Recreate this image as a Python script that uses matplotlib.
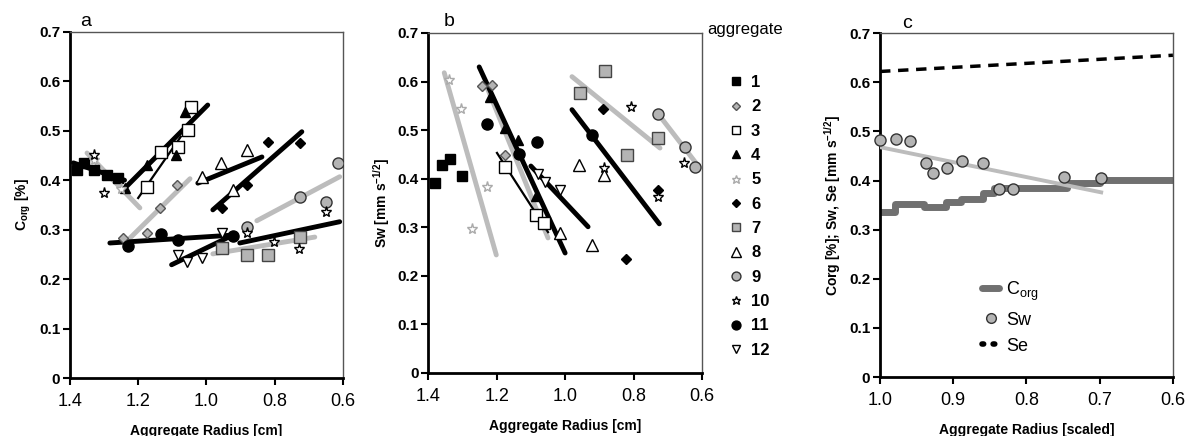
import matplotlib
matplotlib.use('Agg')
import matplotlib.pyplot as plt
import numpy as np
from matplotlib.lines import Line2D
from matplotlib.ticker import FuncFormatter, FormatStrFormatter

plt.rcParams['font.family'] = ['Liberation Sans', 'DejaVu Sans']

## aggregate ids 1..12
aggregates = list(range(1, 13))

## panel a: radius [cm] and Corg [%] per aggregate
a_radius = [
    [1.38, 1.36, 1.33, 1.29, 1.26],
    [1.244, 1.174, 1.136, 1.087],
    [1.174, 1.133, 1.083, 1.054, 1.045],
    [1.24, 1.174, 1.089, 1.063],
    [1.33, 1.25],
    [0.955, 0.881, 0.82, 0.726],
    [0.955, 0.881, 0.82, 0.726],
    [1.013, 0.958, 0.922, 0.881],
    [0.881, 0.726, 0.65, 0.615],
    [1.33, 1.30, 0.881, 0.802, 0.729, 0.65],
    [1.23, 1.133, 1.083, 0.922],
    [1.083, 1.058, 1.013, 0.955],
]
a_corg = [
    [0.42, 0.435, 0.42, 0.41, 0.405],
    [0.283, 0.293, 0.344, 0.39],
    [0.386, 0.457, 0.467, 0.502, 0.548],
    [0.385, 0.431, 0.451, 0.538],
    [0.441, 0.383],
    [0.344, 0.39, 0.477, 0.475],
    [0.263, 0.249, 0.249, 0.285],
    [0.407, 0.435, 0.38, 0.461],
    [0.305, 0.366, 0.356, 0.435],
    [0.45, 0.375, 0.293, 0.275, 0.261, 0.336],
    [0.267, 0.291, 0.279, 0.287],
    [0.249, 0.235, 0.243, 0.293],
]
# fitted lines (start/end)
a_fit_id = [1, 2, 3, 4, 5, 6, 7, 8, 9, 10, 11, 12]
a_fit_r = [(1.39, 1.24), (1.224, 1.048), (1.20, 1.075), (1.239, 0.996), (1.35, 1.195), (0.981, 0.72),
           (0.981, 0.682), (1.025, 0.837), (0.852, 0.609), (0.902, 0.609), (1.283, 0.922), (1.102, 0.922)]
a_fit_v = [(0.435, 0.40), (0.283, 0.403), (0.364, 0.488), (0.384, 0.552), (0.455, 0.344), (0.34, 0.498),
           (0.251, 0.285), (0.394, 0.447), (0.318, 0.407), (0.273, 0.316), (0.273, 0.289), (0.229, 0.289)]

## panel b: radius [cm] and Sw per aggregate
b_radius = [
    [1.38, 1.359, 1.336, 1.30],
    [1.242, 1.213, 1.175],
    [1.175, 1.085, 1.061],
    [1.219, 1.175, 1.137, 1.085],
    [1.339, 1.304, 1.228, 1.272],
    [0.889, 0.728, 0.822],
    [0.956, 0.883, 0.819, 0.728],
    [1.015, 0.959, 0.921, 0.886],
    [0.728, 0.65, 0.62],
    [0.807, 0.886, 0.653, 0.728],
    [1.228, 1.134, 1.082, 0.921],
    [1.08, 1.058, 1.015],
]
b_sw = [
    [0.391, 0.428, 0.44, 0.406],
    [0.591, 0.593, 0.449],
    [0.424, 0.325, 0.309],
    [0.568, 0.504, 0.48, 0.364],
    [0.603, 0.544, 0.383, 0.296],
    [0.543, 0.376, 0.234],
    [0.577, 0.622, 0.449, 0.484],
    [0.288, 0.428, 0.264, 0.408],
    [0.533, 0.466, 0.425],
    [0.548, 0.422, 0.433, 0.362],
    [0.513, 0.45, 0.476, 0.49],
    [0.41, 0.393, 0.377],
]
b_fit_id = [2, 3, 4, 5, 7, 9, 11, 12]
b_fit_r = [(1.231, 1.05), (1.199, 1.05), (1.251, 1.0), (1.353, 1.201), (0.98, 0.723), (0.728, 0.61),
           (0.98, 0.725), (1.10, 0.933)]
b_fit_v = [(0.593, 0.278), (0.453, 0.29), (0.63, 0.247), (0.618, 0.243), (0.61, 0.463), (0.533, 0.425),
           (0.542, 0.307), (0.426, 0.301)]

## panel c: scaled radius
c_sw_r = [1.0, 0.978, 0.959, 0.937, 0.928, 0.909, 0.888, 0.859, 0.838, 0.818, 0.749, 0.698]
c_sw = [0.482, 0.484, 0.48, 0.435, 0.415, 0.425, 0.44, 0.435, 0.383, 0.383, 0.407, 0.405]
c_sw_fit_r = [1.0, 0.698]
c_sw_fit = [0.468, 0.376]
c_corg_r = [1.0, 0.98, 0.94, 0.91, 0.89, 0.86, 0.845, 0.745, 0.70, 0.60]
c_corg = [0.336, 0.352, 0.346, 0.356, 0.362, 0.374, 0.385, 0.395, 0.401, 0.401]
c_se_r = [1.0, 0.6]
c_se = [0.622, 0.655]

GRAY = '#b4b4b4'
LGRAY = '#bcbcbc'
# marker style per aggregate: marker, face, edge, size
styles = {
    1: ('s', 'black', 'black', 7),
    2: ('D', GRAY, '#555555', 5),
    3: ('s', 'white', 'black', 8),
    4: ('^', 'black', 'black', 7),
    5: ('*', 'white', '#aaaaaa', 8),
    6: ('D', 'black', 'black', 5),
    7: ('s', GRAY, '#444444', 8),
    8: ('^', 'white', 'black', 9),
    9: ('o', GRAY, '#333333', 8),
    10: ('*', 'white', 'black', 8),
    11: ('o', 'black', 'black', 8),
    12: ('v', 'white', 'black', 7),
}
gray_lines = {2, 5, 7, 9}
thin_lines = {3}


def style_axes(ax, xticks, xlim, fmt):
    ax.set_xlim(*xlim)
    ax.set_ylim(0, 0.7)
    ax.set_xticks(xticks)
    ax.set_yticks(np.arange(0, 0.71, 0.1))
    ax.xaxis.set_major_formatter(FormatStrFormatter(fmt))
    ax.yaxis.set_major_formatter(FuncFormatter(lambda v, p: '0' if abs(v) < 1e-9 else '%.1f' % v))
    for s in ['left', 'bottom']:
        ax.spines[s].set_linewidth(2)
        ax.spines[s].set_color('black')
    for s in ['top', 'right']:
        ax.spines[s].set_linewidth(1)
        ax.spines[s].set_color('#555555')
    ax.tick_params(axis='both', direction='out', length=5, width=1.5, top=False, right=False)
    ax.tick_params(axis='x', labelsize=13, pad=6)
    ax.tick_params(axis='y', labelsize=11, pad=2)
    for lab in ax.get_yticklabels():
        lab.set_fontweight('bold')


def draw_panel(ax, radius, vals, fit_id, fit_r, fit_v):
    for k, agg in enumerate(fit_id):
        if agg in gray_lines:
            ax.plot(fit_r[k], fit_v[k], color=LGRAY, lw=3.5, solid_capstyle='round', zorder=2)
        elif agg in thin_lines:
            ax.plot(fit_r[k], fit_v[k], color='black', lw=1.6, zorder=3)
        else:
            ax.plot(fit_r[k], fit_v[k], color='black', lw=3.5, solid_capstyle='round', zorder=3)
    for i, agg in enumerate(aggregates):
        m, fc, ec, ms = styles[agg]
        ax.plot(radius[i], vals[i], linestyle='none', marker=m, markerfacecolor=fc,
                markeredgecolor=ec, markersize=ms, markeredgewidth=1, zorder=4)


fig = plt.figure(figsize=(11.86, 4.36), dpi=100)
ax_a = fig.add_axes([0.059, 0.133, 0.230, 0.794])
ax_b = fig.add_axes([0.361, 0.1445, 0.231, 0.780])
ax_c = fig.add_axes([0.742, 0.135, 0.247, 0.789])

## panel a
draw_panel(ax_a, a_radius, a_corg, a_fit_id, a_fit_r, a_fit_v)
style_axes(ax_a, [1.4, 1.2, 1.0, 0.8, 0.6], (1.4, 0.6), '%.1f')
ax_a.set_xlabel('Aggregate Radius [cm]', fontsize=10, fontweight='bold', labelpad=10)
ax_a.set_ylabel('C$_{\\mathregular{org}}$ [%]', fontsize=10, fontweight='bold', labelpad=4)

## panel b
draw_panel(ax_b, b_radius, b_sw, b_fit_id, b_fit_r, b_fit_v)
style_axes(ax_b, [1.4, 1.2, 1.0, 0.8, 0.6], (1.4, 0.6), '%.1f')
ax_b.set_xlabel('Aggregate Radius [cm]', fontsize=10, fontweight='bold', labelpad=10)
ax_b.set_ylabel('Sw [mm s$^{\\mathregular{-1/2}}$]', fontsize=10, fontweight='bold', labelpad=4)

handles = []
for agg in aggregates:
    m, fc, ec, ms = styles[agg]
    handles.append(Line2D([], [], linestyle='none', marker=m, markerfacecolor=fc,
                          markeredgecolor=ec, markersize=ms * 0.8, markeredgewidth=1))
fig.legend(handles, [str(a) for a in aggregates], loc='upper left',
           bbox_to_anchor=(0.608, 0.843), frameon=False,
           prop={'weight': 'bold', 'size': 12},
           handlelength=1.0, handletextpad=0.4, labelspacing=0.56, borderaxespad=0)
fig.text(0.5965, 0.933, 'aggregate', fontsize=12, ha='left', va='center')

## panel c
ax_c.plot(c_se_r, c_se, color='black', lw=2.5, linestyle=(0, (3, 2.2)), zorder=2)
ax_c.plot(c_corg_r, c_corg, color='#707070', lw=5, drawstyle='steps-post',
          solid_joinstyle='round', solid_capstyle='round', zorder=2)
ax_c.plot(c_sw_fit_r, c_sw_fit, color=LGRAY, lw=2.8, zorder=3)
ax_c.plot(c_sw_r, c_sw, linestyle='none', marker='o', markerfacecolor=GRAY,
          markeredgecolor='#333333', markersize=8, markeredgewidth=1, zorder=4, clip_on=False)
style_axes(ax_c, [1.0, 0.9, 0.8, 0.7, 0.6], (1.0, 0.6), '%.1f')
ax_c.set_xlabel('Aggregate Radius [scaled]', fontsize=10, fontweight='bold', labelpad=10)
ax_c.set_ylabel('Corg [%]; Sw, Se [mm s$^{\\mathregular{-1/2}}$]', fontsize=10, fontweight='bold', labelpad=4)
c_handles = [
    Line2D([], [], color='#707070', lw=5, solid_capstyle='round'),
    Line2D([], [], linestyle='none', marker='o', markerfacecolor=GRAY, markeredgecolor='#333333', markersize=7),
    Line2D([], [], color='black', lw=4, linestyle=(0, (0.3, 1.7)), dash_capstyle='round'),
]
ax_c.legend(c_handles, ['C$_{\\mathregular{org}}$', 'Sw', 'Se'], loc='upper left',
            bbox_to_anchor=(0.325, 0.305), frameon=False, prop={'size': 13},
            handlelength=0.9, handletextpad=0.4, labelspacing=0.5, borderaxespad=0)

fig.text(0.0725, 0.95, 'a', fontsize=14, ha='center', va='center')
fig.text(0.379, 0.95, 'b', fontsize=14, ha='center', va='center')
fig.text(0.765, 0.945, 'c', fontsize=14, ha='center', va='center')

fig.savefig('out.png', dpi=100)
